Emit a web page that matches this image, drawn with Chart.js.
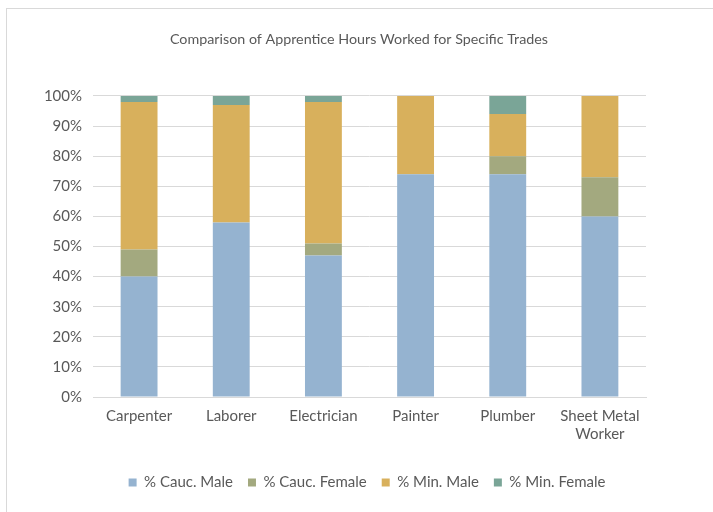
<!DOCTYPE html>
<html>
<head>
<meta charset="utf-8">
<script src="https://cdn.jsdelivr.net/npm/chart.js@4/dist/chart.umd.min.js"></script>
<style>
  html, body { margin: 0; padding: 0; background: #fff; }
  #wrap { position: relative; width: 713px; height: 512px; overflow: hidden; }
  #frame { position: absolute; left: 6px; top: 8px; width: 720px; height: 520px;
           border: 1.5px solid #d9d9d9; box-sizing: border-box; }
  canvas { position: absolute; left: 0; top: 0; }
</style>
</head>
<body>
<div id="wrap">
  <div id="frame"></div>
  <canvas id="chart" width="713" height="512"></canvas>
</div>
<script>
// ── data ──
const trades = ['Carpenter', 'Laborer', 'Electrician', 'Painter', 'Plumber', ['Sheet Metal', 'Worker']];
const caucMale   = [40, 58, 47, 74, 74, 60];
const caucFemale = [9, 0, 4, 0, 6, 13];
const minMale    = [49, 39, 47, 26, 14, 27];
const minFemale  = [2, 3, 2, 0, 6, 0];
const yTicks = [0, 10, 20, 30, 40, 50, 60, 70, 80, 90, 100];

const textColor = '#595959';
const gridColor = '#d9d9d9';
const fontFamily = 'Lato, "Open Sans", sans-serif';

function series(label, data, color) {
    return { label, data, backgroundColor: color, borderWidth: 0,
             barPercentage: 0.4, categoryPercentage: 1.0 };
}

// title and legend sit centred on the frame, not on the plot; nudge their boxes right
const centreNudge = {
    id: 'centreNudge',
    afterLayout(chart) {
        const t = chart.titleBlock, l = chart.legend;
        if (t) { t.left += 16; t.right += 16; }
        if (l) { l.left += 24; l.right += 24; }
    }
};

new Chart(document.getElementById('chart'), {
    type: 'bar',
    data: {
        labels: trades,
        datasets: [
            series('% Cauc. Male', caucMale, '#95b3d0'),
            series('% Cauc. Female', caucFemale, '#a3a97f'),
            series('% Min. Male', minMale, '#d8b05c'),
            series('% Min. Female', minFemale, '#7aa597')
        ]
    },
    plugins: [centreNudge],
    options: {
        responsive: false,
        animation: false,
        layout: { padding: { left: 40, right: 67, top: 0, bottom: 12 } },
        plugins: {
            title: {
                display: true,
                text: 'Comparison of Apprentice Hours Worked for Specific Trades',
                color: textColor,
                font: { family: fontFamily, size: 14.3, weight: 'normal' },
                padding: { top: 31, bottom: 47.8 }
            },
            legend: {
                position: 'bottom',
                labels: {
                    color: textColor,
                    font: { family: fontFamily, size: 15 },
                    boxWidth: 8, boxHeight: 8,
                    padding: 15
                }
            },
            tooltip: { enabled: false }
        },
        scales: {
            x: {
                stacked: true,
                grid: { display: false, drawTicks: false },
                border: { display: true, color: gridColor, width: 1 },
                ticks: { color: textColor, font: { family: fontFamily, size: 15 }, padding: 10,
                         maxRotation: 0, lineHeight: 1.15 },
                afterFit: s => { s.height = 63; }
            },
            y: {
                stacked: true,
                min: 0, max: 100,
                afterBuildTicks: s => { s.ticks = yTicks.map(v => ({ value: v })); },
                grid: { color: gridColor, drawTicks: false },
                border: { display: false },
                ticks: { color: textColor, font: { family: fontFamily, size: 15 }, padding: 11,
                         callback: v => v + '%' },
                afterFit: s => { s.width = 53; }
            }
        }
    }
});
</script>
</body>
</html>
